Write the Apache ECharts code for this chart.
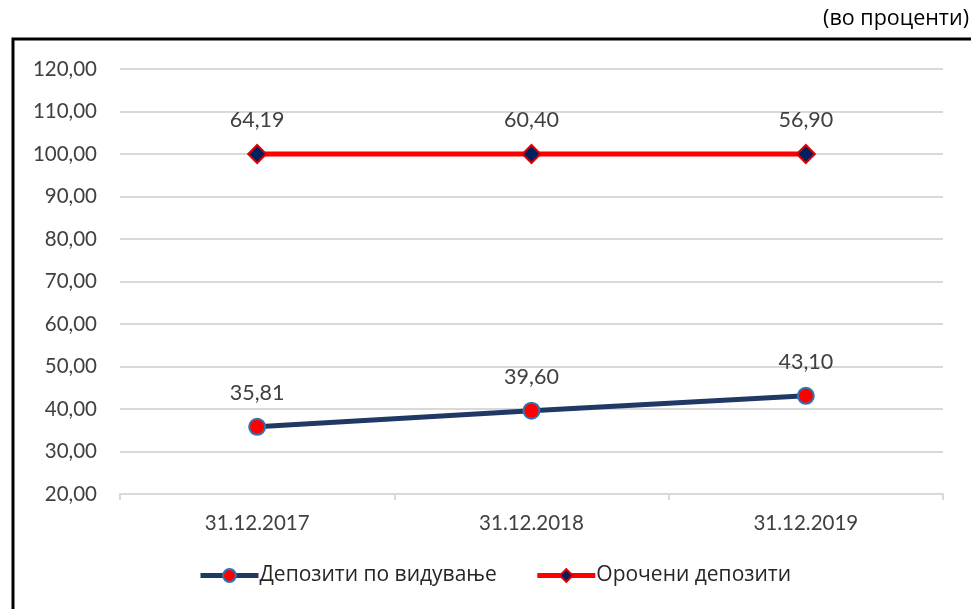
<!DOCTYPE html>
<html>
<head>
<meta charset="UTF-8">
<title>Депозити</title>
<script type="text/javascript" src="https://cdn.jsdelivr.net/npm/echarts@6/dist/echarts.min.js"></script>
<style>
  html, body {margin:0; padding:0; background:#fff}
</style>
</head>
<body>
<div id="main" style="width:971px;height:609px"></div>
<script type="text/javascript">
var categories = ['31.12.2017', '31.12.2018', '31.12.2019'];
var demandDeposits = [35.81, 39.60, 43.10];
var timeDeposits = [64.19, 60.40, 56.90];
var seriesNames = ['Депозити по видување', 'Орочени депозити'];

var NUM_FONT = 'Lato, "Open Sans", sans-serif';
var TXT_FONT = '"Open Sans", "Noto Sans", sans-serif';

function fmt(v) {
    return v.toFixed(2).replace('.', ',');
}

var myChart = echarts.init(document.getElementById('main'));

var option = {
    animation: false,
    textStyle: {fontFamily: NUM_FONT},
    graphic: [
        {
            type: 'rect',
            shape: {x: 13, y: 39, width: 1000, height: 640},
            style: {fill: 'none', stroke: '#000', lineWidth: 3},
            z: -1
        },
        {
            type: 'text',
            right: 2,
            top: 8,
            style: {text: '(во проценти)', fill: '#000', font: '21.5px ' + TXT_FONT}
        }
    ],
    grid: {left: 120, right: 28, top: 69, bottom: 115},
    legend: {
        bottom: 18,
        left: 193,
        itemWidth: 58,
        itemHeight: 16,
        itemGap: 38,
        lineStyle: {width: 5},
        textStyle: {fontSize: 21, color: '#262626', fontFamily: TXT_FONT, padding: [0, 0, 0, -4]},
        data: seriesNames
    },
    xAxis: {
        type: 'category',
        data: categories,
        boundaryGap: true,
        axisLine: {lineStyle: {color: '#d9d9d9', width: 2}},
        axisTick: {show: true, length: 6, lineStyle: {color: '#d9d9d9', width: 2}},
        axisLabel: {fontSize: 20.5, color: '#404040', margin: 19, fontFamily: NUM_FONT}
    },
    yAxis: {
        type: 'value',
        min: 20,
        max: 120,
        interval: 10,
        axisLine: {show: false},
        axisTick: {show: false},
        axisLabel: {
            fontSize: 20.5, color: '#404040', margin: 23, fontFamily: NUM_FONT,
            formatter: function (v) { return fmt(v); }
        },
        splitLine: {lineStyle: {color: '#d9d9d9', width: 2}}
    },
    series: [
        {
            name: seriesNames[0],
            type: 'line',
            stack: 'total',
            data: demandDeposits,
            symbol: 'circle',
            symbolSize: 16,
            lineStyle: {color: '#1f3864', width: 5},
            itemStyle: {color: '#ff0000', borderColor: '#2e75b6', borderWidth: 2},
            label: {
                show: true, position: 'top', distance: 14,
                fontSize: 21.5, color: '#404040', fontFamily: NUM_FONT,
                formatter: function (p) { return fmt(p.value); }
            },
            z: 3
        },
        {
            name: seriesNames[1],
            type: 'line',
            stack: 'total',
            data: timeDeposits,
            symbol: 'diamond',
            symbolSize: 18,
            lineStyle: {color: '#ff0000', width: 5},
            itemStyle: {color: '#002060', borderColor: '#e00000', borderWidth: 2},
            label: {
                show: true, position: 'top', distance: 13,
                fontSize: 21.5, color: '#404040', fontFamily: NUM_FONT,
                formatter: function (p) { return fmt(p.value); }
            },
            z: 3
        }
    ]
};

myChart.setOption(option);
</script>
</body>
</html>
